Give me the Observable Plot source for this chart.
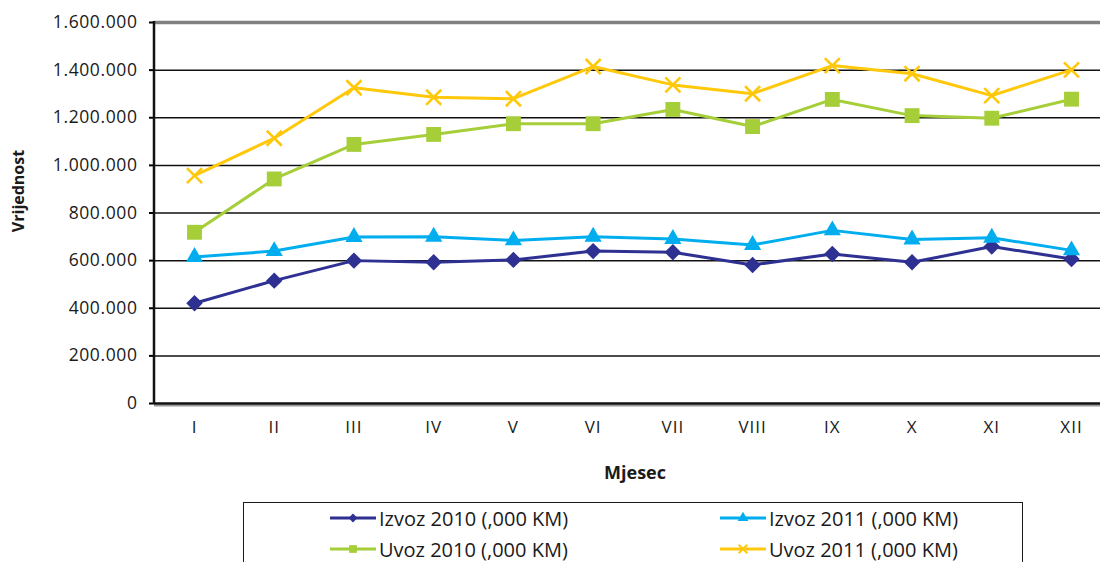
<!DOCTYPE html>
<html>
<head>
<meta charset="utf-8">
<script src="https://cdn.jsdelivr.net/npm/d3@7"></script>
<script src="https://cdn.jsdelivr.net/npm/@observablehq/plot@0.6"></script>
<style>
  body { margin: 0; background: #fff; font-family: "Open Sans", sans-serif; }
  #wrap { position: relative; width: 1100px; height: 562px; overflow: hidden; background: #fff; }
  #wrap svg.plot text { font-family: "Open Sans", sans-serif; fill: #1a1a1a; }
  g[aria-label="y-axis tick label"] text { letter-spacing: 0.6px; }
  g[aria-label="x-axis tick label"] text { letter-spacing: 1px; }
  #legend { position: absolute; left: 243px; top: 502px; width: 780px; height: 90px; border: 1.5px solid #1a1a1a; box-sizing: border-box; }
  .entry { position: absolute; height: 26px; display: flex; align-items: center; font-size: 20px; color: #1a1a1a; white-space: nowrap; }
  .entry svg { display: block; margin-right: 1px; }
</style>
</head>
<body>
<div id="wrap"></div>
<script>
// ---- data ----
const months = ["I", "II", "III", "IV", "V", "VI", "VII", "VIII", "IX", "X", "XI", "XII"];
const seriesNames = ["Izvoz 2010 (,000 KM)", "Izvoz 2011 (,000 KM)", "Uvoz 2010 (,000 KM)", "Uvoz 2011 (,000 KM)"];
const izvoz2010 = [421000, 516000, 600000, 593000, 603000, 640000, 635000, 582000, 628000, 593000, 659000, 607000];
const izvoz2011 = [615000, 640000, 699000, 700000, 685000, 700000, 691000, 666000, 727000, 689000, 696000, 643000];
const uvoz2010 = [719000, 943000, 1088000, 1130000, 1175000, 1175000, 1235000, 1163000, 1277000, 1209000, 1198000, 1278000];
const uvoz2011 = [957000, 1114000, 1326000, 1286000, 1280000, 1415000, 1338000, 1301000, 1419000, 1385000, 1293000, 1401000];
const yTicks = [0, 200000, 400000, 600000, 800000, 1000000, 1200000, 1400000, 1600000];
const axisTitleX = "Mjesec";
const axisTitleY = "Vrijednost";

const seriesValues = [izvoz2010, izvoz2011, uvoz2010, uvoz2011];
const colors = ["#2E3192", "#00AEEF", "#A6CE39", "#FFC80B"];
const plotSymbols = ["diamond2", "triangle", "square", "times"];
const d3Symbols = [d3.symbolDiamond2, d3.symbolTriangle, d3.symbolSquare, d3.symbolTimes];
const symbolR = [7.4, 6.4, 8.4, 6.9];

const rows = seriesNames.flatMap((s, k) => months.map((m, i) => ({series: s, month: m, value: seriesValues[k][i]})));

const loc = d3.formatLocale({decimal: ",", thousands: ".", grouping: [3], currency: ["", ""]});
const fmt = loc.format(",");

function decor(index, scales, values, dims) {
  const g = d3.create("svg:g");
  const x0 = dims.marginLeft, yTop = dims.marginTop, yBot = dims.height - dims.marginBottom;
  g.append("line").attr("x1", x0).attr("x2", x0).attr("y1", yTop - 1).attr("y2", yBot + 1)
    .attr("stroke", "#111").attr("stroke-width", 2.5);
  g.append("text").attr("transform", `translate(23.5,191) rotate(-90)`)
    .attr("text-anchor", "middle").attr("font-weight", "bold").attr("font-size", 16)
    .attr("font-family", "Open Sans").attr("fill", "#1a1a1a").text(axisTitleY);
  g.append("text").attr("x", 635).attr("y", 478.5)
    .attr("text-anchor", "middle").attr("font-weight", "bold").attr("font-size", 18)
    .attr("font-family", "Open Sans").attr("fill", "#1a1a1a").text(axisTitleX);
  return g.node();
}

const marks = [
  Plot.ruleY(yTicks.filter(t => t > 0 && t < 1600000), {stroke: "#111", strokeWidth: 1.5}),
  Plot.ruleY([1600000], {stroke: "#808080", strokeWidth: 3.5}),
  Plot.ruleY([0], {stroke: "#9a9a9a", strokeWidth: 2, dy: 2}),
  Plot.ruleY([0], {stroke: "#111", strokeWidth: 2.5}),
  Plot.axisY({ticks: yTicks, tickFormat: fmt, tickSize: 5, tickPadding: 12, fontSize: 17.5, label: null, strokeWidth: 2}),
  Plot.axisX({tickSize: 0, tickPadding: 17, fontSize: 17, label: null}),
  decor
];
seriesNames.forEach((s, k) => {
  const d = rows.filter(r => r.series === s);
  marks.push(Plot.line(d, {x: "month", y: "value", stroke: colors[k], strokeWidth: 3}));
});
seriesNames.forEach((s, k) => {
  const d = rows.filter(r => r.series === s);
  if (plotSymbols[k] === "times") {
    marks.push(Plot.dot(d, {x: "month", y: "value", symbol: "times", r: symbolR[k], stroke: colors[k], strokeWidth: 2.6, fill: "none"}));
  } else {
    marks.push(Plot.dot(d, {x: "month", y: "value", symbol: plotSymbols[k], r: symbolR[k], fill: colors[k], stroke: "none"}));
  }
});

const chart = Plot.plot({
  width: 1100,
  height: 495,
  marginLeft: 154,
  marginRight: 0,
  marginTop: 22,
  marginBottom: 92,
  style: {background: "#fff", fontFamily: "Open Sans"},
  x: {type: "point", domain: months, range: [194, 1071], padding: 0, round: false},
  y: {domain: [0, 1600000]},
  marks
});
chart.classList.add("plot");
const wrap = document.getElementById("wrap");
wrap.appendChild(chart);

// ---- legend ----
const legend = d3.select(wrap).append("div").attr("id", "legend");
const pos = [[85, 2], [475, 2], [85, 33], [475, 33]];
seriesNames.forEach((s, k) => {
  const e = legend.append("div").attr("class", "entry")
    .style("left", pos[k][0] + "px").style("top", pos[k][1] + "px");
  const sv = e.append("svg").attr("width", 49).attr("height", 16);
  sv.append("line").attr("x1", 1).attr("x2", 47).attr("y1", 8).attr("y2", 8)
    .attr("stroke", colors[k]).attr("stroke-width", 3);
  const sym = d3.symbol(d3Symbols[k], k === 2 ? 60 : 50)();
  const p = sv.append("path").attr("d", sym).attr("transform", "translate(24,8)");
  if (k === 3) p.attr("fill", "none").attr("stroke", colors[k]).attr("stroke-width", 2);
  else p.attr("fill", colors[k]);
  e.append("span").text(s);
});
</script>
</body>
</html>
